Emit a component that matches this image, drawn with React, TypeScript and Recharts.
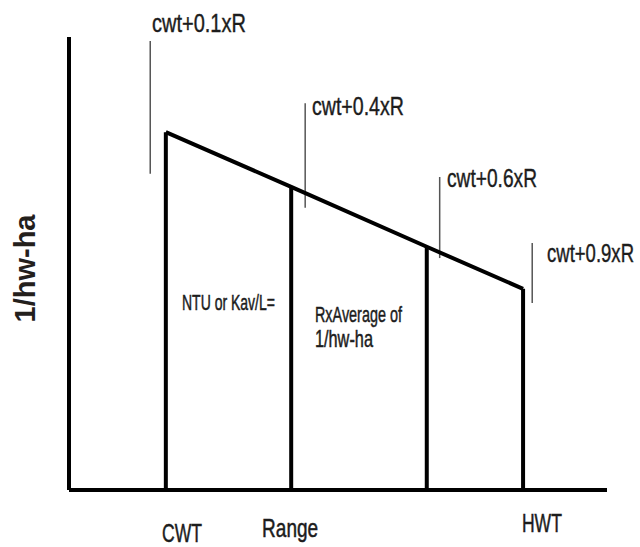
import {
  ComposedChart,
  Line,
  XAxis,
  YAxis,
  ReferenceLine,
  ReferenceDot,
} from 'recharts';

// x positions (arbitrary units 0-100) of the four stations on the range
const stationX = [18.0, 41.3, 66.5, 84.4];
// 1/(hw-ha) at each station
const stationY = [79.0, 66.9, 53.7, 44.4];

// leader lines and their labels
const leaderLabels = ['cwt+0.1xR', 'cwt+0.4xR', 'cwt+0.6xR', 'cwt+0.9xR'];
const leaderX = [15.1, 43.9, 68.9, 86.1];
const leaderTop = [99.1, 85.4, 69.1, 54.5];
const leaderBottom = [69.8, 62.3, 51.2, 41.3];
const leaderLabelX = [15.43, 45.17, 70.26, 88.85];
const leaderLabelY = [101.1, 82.8, 66.9, 50.3];

// x-axis tick labels
const axisTicks = [21.0, 41.1, 87.9];
const axisTickLabels = ['CWT', 'Range', 'HWT'];

// notes inside the area
const noteTexts = ['NTU or Kav/L=', 'RxAverage of', '1/hw-ha'];
const noteX = [21.0, 45.72, 45.72];
const noteY = [39.7, 37.1, 31.6];

const data = stationX.map((x, i) => ({ x, y: stationY[i] }));

const SANS = '"Liberation Sans", Arial, sans-serif';

const leaderWidths = [94, 92, 90, 87];
const tickDy = [52, 47, 42];
const tickWidths = [40, 56, 40];
const noteWidths = [93, 87, 58];
const noteSizes = [22, 23, 23];

let ctx: CanvasRenderingContext2D | null = null;
function measure(text: string, size: number, weight = 'normal') {
  if (!ctx) ctx = document.createElement('canvas').getContext('2d');
  if (!ctx) return text.length * size * 0.5;
  ctx.font = `${weight} ${size}px "Liberation Sans", Arial, sans-serif`;
  return ctx.measureText(text).width;
}

// text squeezed horizontally to a given width (condensed look of the original)
function Squeezed({ x, y, text, size, width, anchor = 'start', stroke = 0.4 }: any) {
  const sx = width / measure(text, size);
  return (
    <text
      transform={`translate(${x}, ${y}) scale(${sx}, 1)`}
      x={0}
      y={0}
      textAnchor={anchor}
      fontFamily={SANS}
      fontSize={size}
      fill="#1c1c1c"
      stroke="#1c1c1c"
      strokeWidth={stroke}
    >
      {text}
    </text>
  );
}

function AxisTick(props: any) {
  const { x, y, index } = props;
  return (
    <Squeezed
      x={x}
      y={y + tickDy[index]}
      text={axisTickLabels[index]}
      size={26}
      width={tickWidths[index]}
      anchor="middle"
      stroke={0.5}
    />
  );
}

function YTitle(props: any) {
  const { viewBox } = props;
  const cx = viewBox.x + 25;
  const cy = viewBox.y + viewBox.height / 2 + 5;
  return (
    <text
      x={cx}
      y={cy}
      transform={`rotate(-90, ${cx}, ${cy})`}
      textAnchor="middle"
      dominantBaseline="central"
      fontFamily={SANS}
      fontWeight="bold"
      fontSize={29}
      fill="#24201c"
    >
      1/hw-ha
    </text>
  );
}

export default function App() {
  return (
    <div style={{ position: 'absolute', left: 0, top: 0, background: '#fff' }}>
      <ComposedChart
        width={640}
        height={547}
        data={data}
        margin={{ top: 37, right: 33, bottom: 0, left: 0 }}
      >
        <XAxis
          type="number"
          dataKey="x"
          domain={[0, 100]}
          ticks={axisTicks}
          tick={<AxisTick />}
          tickLine={false}
          tickSize={0}
          tickMargin={0}
          height={57}
          axisLine={{ stroke: '#000', strokeWidth: 4 }}
          interval={0}
        />
        <YAxis
          type="number"
          domain={[0, 100]}
          width={69}
          tick={false}
          tickLine={false}
          axisLine={{ stroke: '#000', strokeWidth: 4 }}
          label={<YTitle />}
        />

        {/* vertical ordinates at each station */}
        {stationX.map((x, i) => (
          <ReferenceLine
            key={`v${i}`}
            segment={[
              { x, y: 0 },
              { x, y: stationY[i] },
            ]}
            stroke="#000"
            strokeWidth={4}
          />
        ))}

        {/* leader lines */}
        {leaderX.map((x, i) => (
          <ReferenceLine
            key={`l${i}`}
            segment={[
              { x, y: leaderBottom[i] },
              { x, y: leaderTop[i] },
            ]}
            stroke="#555"
            strokeWidth={1.5}
          />
        ))}

        <Line
          dataKey="y"
          type="linear"
          stroke="#000"
          strokeWidth={4}
          dot={false}
          activeDot={false}
          isAnimationActive={false}
        />

        {leaderLabels.map((t, i) => (
          <ReferenceDot
            key={`t${i}`}
            x={leaderLabelX[i]}
            y={leaderLabelY[i]}
            r={0}
            ifOverflow="visible"
            shape={(p: any) => (
              <Squeezed x={p.cx} y={p.cy} text={t} size={25} width={leaderWidths[i]} />
            )}
          />
        ))}

        {noteTexts.map((t, i) => (
          <ReferenceDot
            key={`n${i}`}
            x={noteX[i]}
            y={noteY[i]}
            r={0}
            ifOverflow="visible"
            shape={(p: any) => (
              <Squeezed
                x={p.cx}
                y={p.cy}
                text={t}
                size={noteSizes[i]}
                width={noteWidths[i]}
                stroke={0.5}
              />
            )}
          />
        ))}
      </ComposedChart>
    </div>
  );
}
